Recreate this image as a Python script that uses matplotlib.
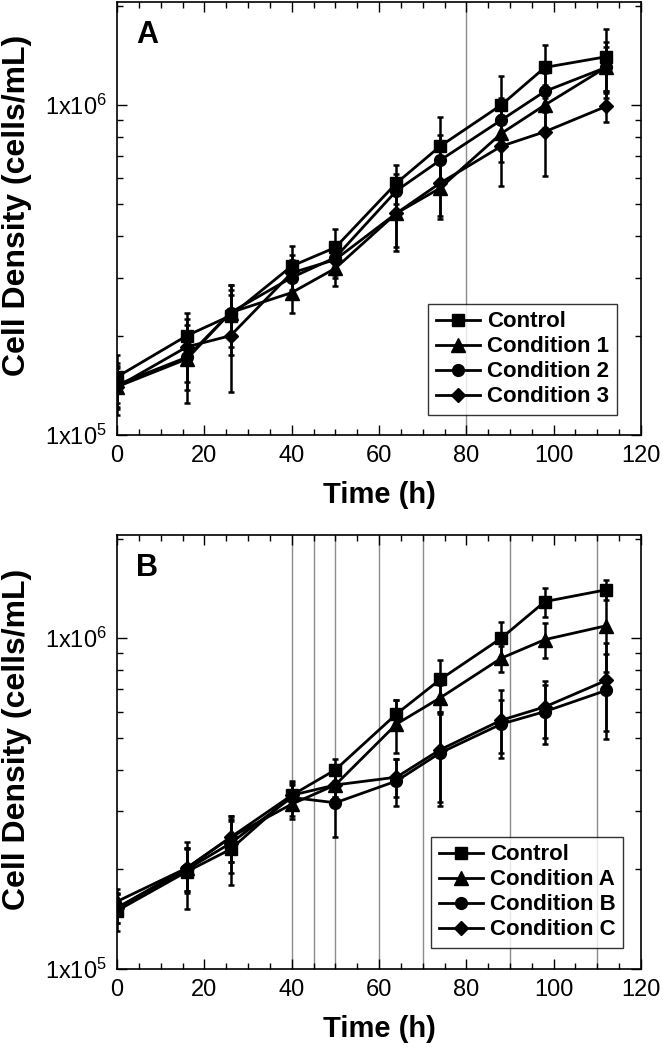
import math
import matplotlib
matplotlib.use("Agg")
import matplotlib.pyplot as plt
from matplotlib.ticker import FixedLocator, MultipleLocator, LogLocator, NullFormatter, FuncFormatter

plt.rcParams['font.family'] = ['Liberation Sans', 'DejaVu Sans']
plt.rcParams['mathtext.default'] = 'regular'

time = [0, 16, 26, 40, 50, 64, 74, 88, 98, 112]

# panel A
a_labels = ["Control", "Condition 1", "Condition 2", "Condition 3"]
a_ctrl = [1.5e5, 2.0e5, 2.3e5, 3.25e5, 3.7e5, 5.8e5, 7.5e5, 1.0e6, 1.3e6, 1.4e6]
a_c1 = [1.4e5, 1.7e5, 2.35e5, 2.7e5, 3.2e5, 4.7e5, 5.6e5, 8.2e5, 1.0e6, 1.3e6]
a_c2 = [1.42e5, 1.72e5, 2.35e5, 3.0e5, 3.45e5, 5.5e5, 6.8e5, 9.0e5, 1.1e6, 1.3e6]
a_c3 = [1.4e5, 1.85e5, 2.0e5, 3.1e5, 3.4e5, 4.7e5, 5.8e5, 7.5e5, 8.3e5, 9.9e5]
a_ctrl_err = [0.25e5, 0.35e5, 0.55e5, 0.5e5, 0.5e5, 0.8e5, 1.7e5, 2.2e5, 2.2e5, 3.0e5]
a_c1_err = [0.2e5, 0.45e5, 0.4e5, 0.35e5, 0.37e5, 1.0e5, 1.1e5, 1.5e5, 1.5e5, 2.5e5]
a_c2_err = [0.2e5, 0.35e5, 0.5e5, 0.4e5, 0.4e5, 0.7e5, 1.3e5, 1.5e5, 1.5e5, 2.0e5]
a_c3_err = [0.25e5, 0.4e5, 0.65e5, 0.4e5, 0.4e5, 1.1e5, 1.2e5, 1.8e5, 2.2e5, 1.0e5]
a_vlines = [80]

# panel B
b_labels = ["Control", "Condition A", "Condition B", "Condition C"]
b_ctrl = [1.5e5, 1.97e5, 2.3e5, 3.35e5, 4.0e5, 5.9e5, 7.5e5, 1.0e6, 1.29e6, 1.4e6]
b_ca = [1.6e5, 2.02e5, 2.5e5, 3.15e5, 3.6e5, 5.5e5, 6.6e5, 8.7e5, 9.9e5, 1.09e6]
b_cb = [1.53e5, 2.0e5, 2.4e5, 3.3e5, 3.18e5, 3.7e5, 4.5e5, 5.5e5, 6.0e5, 6.95e5]
b_cc = [1.53e5, 2.02e5, 2.5e5, 3.35e5, 3.6e5, 3.8e5, 4.6e5, 5.65e5, 6.2e5, 7.45e5]
b_ctrl_err = [0.2e5, 0.45e5, 0.5e5, 0.25e5, 0.3e5, 0.6e5, 1.1e5, 1.2e5, 1.3e5, 1.0e5]
b_ca_err = [0.15e5, 0.3e5, 0.4e5, 0.3e5, 0.3e5, 1.0e5, 0.6e5, 0.8e5, 1.2e5, 3.0e5]
b_cb_err = [0.15e5, 0.3e5, 0.45e5, 0.4e5, 0.67e5, 0.6e5, 1.4e5, 1.0e5, 1.2e5, 2.0e5]
b_cc_err = [0.15e5, 0.3e5, 0.4e5, 0.3e5, 0.3e5, 0.5e5, 1.4e5, 1.3e5, 1.2e5, 2.2e5]
b_vlines = [40, 45, 50, 60, 70, 90, 110]

markers = ['s', '^', 'o', 'D']
msizes = [9, 9.5, 8.5, 7.5]


def sci_label(v, pos):
    return '1x10$^{%d}$' % round(math.log10(v))


def draw_panel(ax, series, errs, labels, vlines, letter, leg_anchor):
    for v in vlines:
        ax.axvline(v, color='#8c8c8c', lw=1.0, zorder=1)
    lines = []
    for y, e, lab, m, ms in zip(series, errs, labels, markers, msizes):
        c = ax.errorbar(time, y, yerr=e, fmt='-' + m, color='k', ms=ms, lw=2.0,
                        elinewidth=1.8, capsize=2.5, capthick=1.8, label=lab, zorder=3)
        lines.append(c[0])
    ax.set_yscale('log')
    ax.set_xlim(0, 120)
    ax.set_ylim(1e5, 2.05e6)
    ax.xaxis.set_major_locator(MultipleLocator(20))
    ax.xaxis.set_minor_locator(MultipleLocator(5))
    ax.yaxis.set_major_locator(FixedLocator([1e5, 1e6]))
    ax.yaxis.set_major_formatter(FuncFormatter(sci_label))
    ax.yaxis.set_minor_locator(LogLocator(base=10, subs=range(2, 10)))
    ax.yaxis.set_minor_formatter(NullFormatter())
    ax.tick_params(which='both', direction='in', top=True, right=True, labelsize=17, width=1, pad=7)
    ax.tick_params(which='major', length=7)
    ax.tick_params(which='minor', length=4)
    for s in ax.spines.values():
        s.set_linewidth(1.2)
    ax.set_xlabel("Time (h)", fontsize=21, fontweight='bold', labelpad=10)
    ax.set_ylabel("Cell Density (cells/mL)", fontsize=23, fontweight='bold')
    ax.yaxis.set_label_coords(-0.162, 0.53)
    ax.text(0.036, 0.905, letter, transform=ax.transAxes, fontsize=22, fontweight='bold')
    leg = ax.legend(handles=lines, labels=labels, loc='lower right', bbox_to_anchor=leg_anchor,
                    frameon=True, fancybox=False, edgecolor='k',
                    prop={'weight': 'bold', 'size': 16}, handlelength=2.0,
                    handletextpad=0.3, borderpad=0.35, labelspacing=0.18, borderaxespad=0)
    leg.get_frame().set_linewidth(1.0)


fig = plt.figure(figsize=(6.63, 10.47), dpi=100)
ax_a = fig.add_axes([0.1765, 0.5845, 0.7903, 0.4135])
ax_b = fig.add_axes([0.1765, 0.0745, 0.7903, 0.4145])

draw_panel(ax_a, [a_ctrl, a_c1, a_c2, a_c3], [a_ctrl_err, a_c1_err, a_c2_err, a_c3_err],
           a_labels, a_vlines, "A", (0.954, 0.046))
draw_panel(ax_b, [b_ctrl, b_ca, b_cb, b_cc], [b_ctrl_err, b_ca_err, b_cb_err, b_cc_err],
           b_labels, b_vlines, "B", (0.966, 0.048))

fig.savefig("out.png", dpi=100)
